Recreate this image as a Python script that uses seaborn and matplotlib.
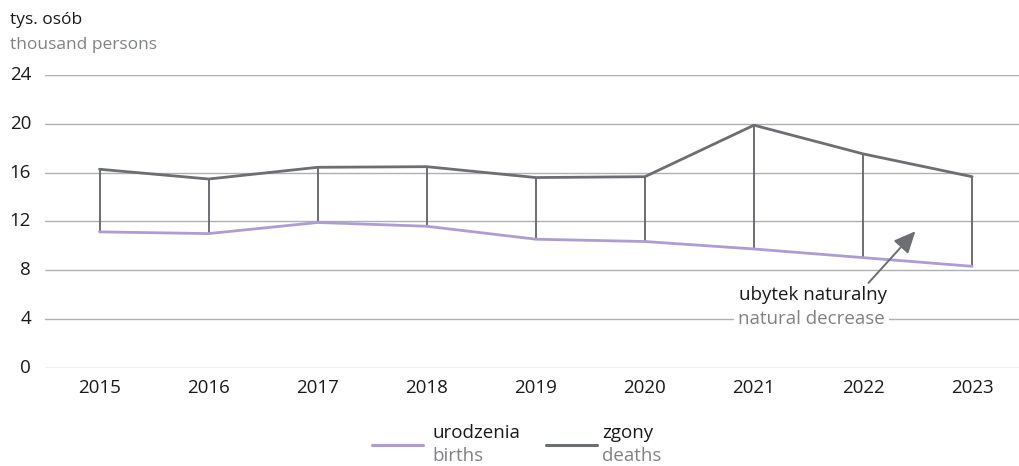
import matplotlib
matplotlib.use("Agg")
import matplotlib.pyplot as plt
import seaborn as sns
import pandas as pd
import numpy as np

years = ["2015", "2016", "2017", "2018", "2019", "2020", "2021", "2022", "2023"]
births = [11.15, 11.01, 11.92, 11.61, 10.55, 10.36, 9.75, 9.04, 8.33]
deaths = [16.28, 15.48, 16.44, 16.49, 15.60, 15.67, 19.89, 17.54, 15.67]
y_ticks = [0, 4, 8, 12, 16, 20, 24]

BIRTH_COLOR = "#ae9cd4"
DEATH_COLOR = "#6d6e71"
GRID_COLOR = "#aeb0b3"
TEXT_DARK = "#1a1a1a"
TEXT_GREY = "#808285"

sns.set_theme(style="white")
plt.rcParams["font.family"] = ["Open Sans", "DejaVu Sans"]

fig = plt.figure(figsize=(10.19, 4.66), dpi=100)
ax = fig.add_axes([45 / 1019, 1 - 368 / 466, 1 - 45 / 1019, (368 - 75) / 466])

x = np.arange(len(years))
df = pd.DataFrame({"x": np.concatenate([x, x]),
                   "value": births + deaths,
                   "series": ["births"] * len(x) + ["deaths"] * len(x)})

# gap between deaths and births for each year
ax.vlines(x, births, deaths, color=DEATH_COLOR, lw=1.4, zorder=3)

sns.lineplot(data=df, x="x", y="value", hue="series",
             palette={"births": BIRTH_COLOR, "deaths": DEATH_COLOR},
             linewidth=2.0, legend=False, ax=ax, zorder=4)

ax.set_xlim(-0.5, 8.43)
ax.set_ylim(0, 24)
ax.set_yticks(y_ticks)
ax.set_yticklabels([str(v) for v in y_ticks])
ax.yaxis.grid(True, color=GRID_COLOR, lw=1.0)
ax.set_axisbelow(True)
for s in ax.spines.values():
    s.set_visible(False)
ax.set_xlabel("")
ax.set_ylabel("")

# category labels centred, small ticks on category boundaries
ax.set_xticks(x)
ax.set_xticklabels(years)
ax.set_xticks(np.arange(-0.5, 8.5, 1.0), minor=True)
ax.tick_params(axis="x", which="major", length=0, pad=8, labelsize=13.5, labelcolor=TEXT_DARK)
ax.tick_params(axis="x", which="minor", length=4, width=0.8, color=GRID_COLOR, direction="in")
ax.tick_params(axis="y", length=0, pad=10, labelsize=13.5, labelcolor=TEXT_DARK)
for lab in ax.get_yticklabels():
    lab.set_verticalalignment("center")

# unit labels
fig.text(10 / 1019, 1 - 20 / 466, "tys. osób", fontsize=12.5, color=TEXT_DARK, va="center", ha="left")
fig.text(10 / 1019, 1 - 45 / 466, "thousand persons", fontsize=12.5, color=TEXT_GREY, va="center", ha="left")

# natural decrease annotation
ax.text(6.54, 5.95, "ubytek naturalny", fontsize=13.5, color=TEXT_DARK, ha="center", va="center", zorder=5)
ax.text(6.53, 4.0, "natural decrease", fontsize=13.5, color=TEXT_GREY, ha="center", va="center", zorder=5,
        bbox=dict(boxstyle="square,pad=0.22", fc="white", ec="none"))
ax.annotate("", xy=(7.48, 11.2), xytext=(7.05, 6.97),
            arrowprops=dict(arrowstyle="-|>,head_length=1.1,head_width=0.5", color=DEATH_COLOR, lw=1.4,
                            shrinkA=0, shrinkB=0),
            zorder=5)

# legend
fig.add_artist(plt.Line2D([372 / 1019, 423 / 1019], [1 - 445 / 466] * 2, color=BIRTH_COLOR, lw=2.2))
fig.text(432 / 1019, 1 - 433 / 466, "urodzenia", fontsize=13.5, color=TEXT_DARK, va="center")
fig.text(432 / 1019, 1 - 456 / 466, "births", fontsize=13.5, color=TEXT_GREY, va="center")
fig.add_artist(plt.Line2D([546 / 1019, 597 / 1019], [1 - 445 / 466] * 2, color=DEATH_COLOR, lw=2.2))
fig.text(602 / 1019, 1 - 433 / 466, "zgony", fontsize=13.5, color=TEXT_DARK, va="center")
fig.text(602 / 1019, 1 - 456 / 466, "deaths", fontsize=13.5, color=TEXT_GREY, va="center")

fig.savefig("out.png", dpi=100, facecolor="white")
